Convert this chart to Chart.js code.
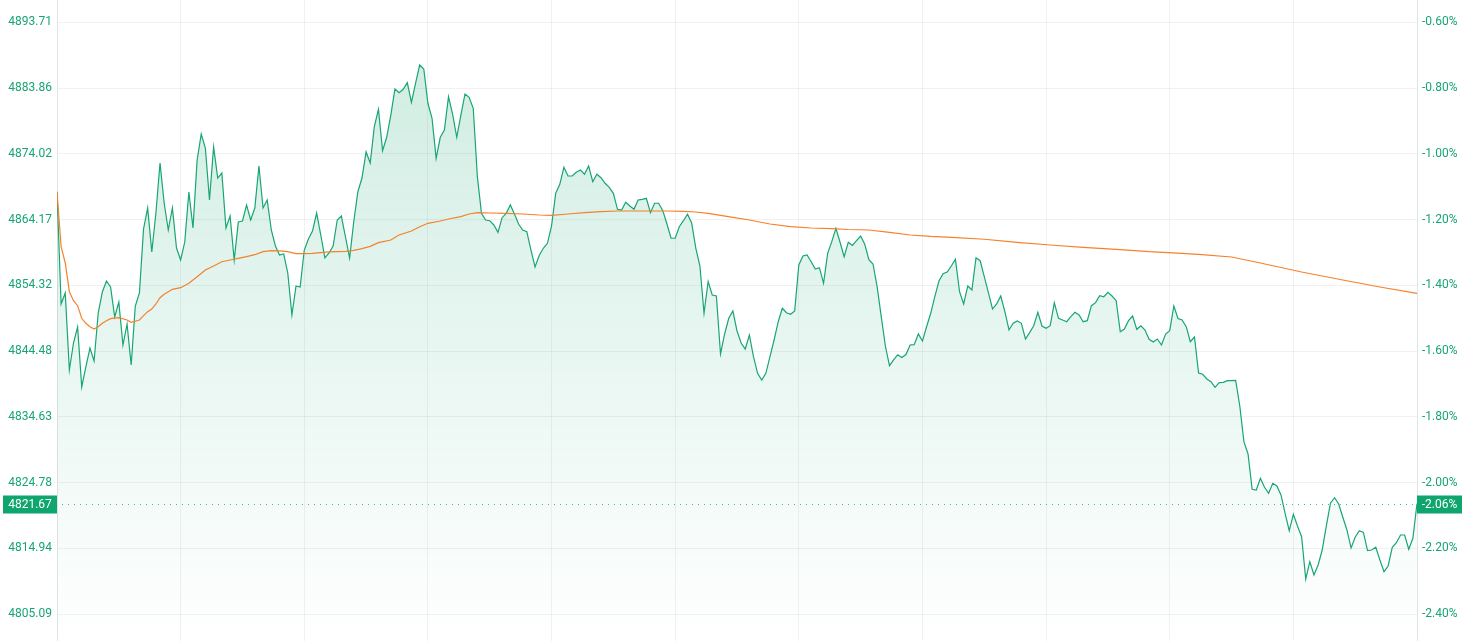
<!DOCTYPE html>
<html>
<head>
<meta charset="utf-8">
<script src="https://cdn.jsdelivr.net/npm/chart.js@4.4.1/dist/chart.umd.min.js"></script>
<style>
	html, body { margin: 0; padding: 0; background: #fff; }
	#wrap { width: 1474px; height: 641px; position: relative; }
</style>
</head>
<body>
<div id="wrap"><canvas id="chart"></canvas></div>
<script>
// =================== DATA ===================
const prevClose = 4923.08;
const lastPrice = 4821.67;

const yTicks = [4805.09, 4814.94, 4824.78, 4834.63, 4844.48, 4854.32, 4864.17, 4874.02, 4883.86, 4893.71];

// one value per minute, 331 points
const prices = [
	4868.35, 4851.54, 4853.19, 4841.66, 4845.70, 4848.10, 4839.12, 4842.11, 4844.95, 4843.01,
	4850.19, 4853.34, 4854.98, 4854.09, 4849.60, 4851.84, 4845.40, 4848.55, 4842.41, 4851.24,
	4853.19, 4862.77, 4865.91, 4859.33, 4865.16, 4872.65, 4866.66, 4862.62, 4865.91, 4859.92,
	4858.13, 4860.82, 4868.31, 4862.92, 4873.10, 4876.99, 4874.89, 4867.11, 4875.04, 4870.40,
	4871.15, 4862.92, 4864.71, 4858.13, 4863.82, 4863.97, 4866.36, 4864.12, 4865.91, 4872.20,
	4865.91, 4867.11, 4862.62, 4860.22, 4858.88, 4859.03, 4856.18, 4849.89, 4854.24, 4854.09,
	4859.62, 4861.27, 4862.47, 4865.16, 4861.87, 4858.43, 4859.18, 4860.22, 4864.12, 4864.71,
	4861.57, 4858.43, 4863.82, 4868.35, 4870.40, 4874.30, 4872.65, 4878.08, 4880.69, 4874.49,
	4876.50, 4879.83, 4883.73, 4883.17, 4883.68, 4884.67, 4881.74, 4884.58, 4887.32, 4886.72,
	4881.59, 4879.34, 4873.35, 4876.50, 4877.59, 4882.57, 4879.94, 4876.50, 4879.83, 4882.98,
	4882.48, 4880.84, 4870.60, 4865.12, 4864.12, 4864.01, 4863.37, 4862.27, 4864.46, 4865.12,
	4866.36, 4865.01, 4863.52, 4862.62, 4862.36, 4859.62, 4857.08, 4858.80, 4859.88, 4860.63,
	4863.22, 4868.11, 4869.46, 4872.00, 4870.70, 4870.70, 4871.26, 4871.60, 4870.96, 4872.20,
	4869.85, 4870.96, 4870.45, 4869.61, 4869.01, 4868.11, 4865.72, 4865.61, 4866.77, 4866.21,
	4865.72, 4867.11, 4867.21, 4867.36, 4865.21, 4866.62, 4866.62, 4865.51, 4863.52, 4861.38,
	4861.38, 4863.11, 4864.01, 4864.97, 4863.67, 4859.92, 4857.23, 4850.15, 4854.91, 4852.89,
	4852.74, 4844.06, 4847.05, 4849.40, 4850.49, 4847.50, 4845.70, 4844.80, 4846.90, 4843.65,
	4841.17, 4840.16, 4841.17, 4843.65, 4846.15, 4848.89, 4850.90, 4850.24, 4850.00, 4850.49,
	4857.38, 4858.73, 4858.88, 4857.87, 4856.78, 4856.98, 4854.64, 4859.13, 4860.87, 4862.87,
	4860.78, 4858.62, 4860.78, 4860.30, 4861.02, 4861.72, 4860.48, 4858.17, 4857.53, 4854.13,
	4849.64, 4845.25, 4842.30, 4843.16, 4843.95, 4843.53, 4843.98, 4845.40, 4845.45, 4847.05,
	4846.00, 4848.14, 4850.15, 4852.63, 4854.98, 4856.08, 4856.33, 4857.23, 4858.23, 4853.38,
	4851.54, 4854.24, 4853.64, 4858.47, 4858.02, 4855.63, 4853.23, 4850.79, 4851.54, 4852.74,
	4850.39, 4847.65, 4848.65, 4849.00, 4848.65, 4846.30, 4847.25, 4848.29, 4850.30, 4848.25,
	4847.90, 4848.29, 4851.74, 4849.40, 4849.15, 4848.89, 4849.64, 4850.30, 4849.89, 4848.89,
	4849.04, 4851.29, 4851.74, 4852.78, 4852.63, 4853.29, 4852.74, 4852.04, 4847.39, 4847.80,
	4849.04, 4849.74, 4847.75, 4848.29, 4847.65, 4846.26, 4845.85, 4846.30, 4845.40, 4847.05,
	4847.54, 4851.24, 4849.37, 4849.15, 4848.14, 4845.90, 4846.60, 4841.21, 4841.02, 4840.31,
	4839.91, 4839.07, 4839.76, 4839.82, 4840.06, 4840.06, 4840.12, 4836.27, 4830.93, 4829.09,
	4823.80, 4823.70, 4825.45, 4824.10, 4823.20, 4824.70, 4824.30, 4822.95, 4820.21, 4817.60,
	4820.06, 4818.31, 4816.71, 4810.37, 4812.96, 4810.97, 4812.47, 4814.71, 4818.31, 4821.71,
	4822.54, 4821.60, 4819.61, 4817.71, 4815.01, 4816.62, 4817.60, 4817.36, 4814.61, 4814.71,
	4815.12, 4813.22, 4811.47, 4812.32, 4815.12, 4815.81, 4816.96, 4816.96, 4814.82, 4816.47,
	4821.67,
];

// average price line, read at these minute indexes
const maIndex = [
	0, 1, 2, 3, 4, 5, 6, 7, 8, 9, 10, 11, 12, 13, 15, 17, 18, 20, 21, 22, 23, 24, 25, 26, 28,
	30, 32, 34, 36, 38, 40, 42, 44, 46, 48, 50, 52, 54, 56, 58, 60, 62, 64, 66, 68, 70, 72, 74,
	76, 78, 81, 83, 86, 88, 90, 93, 95, 98, 100, 102, 105, 109, 113, 117, 120, 124, 128, 132,
	136, 140, 144, 148, 152, 155, 158, 161, 164, 168, 173, 178, 183, 188, 192, 197, 202, 207,
	212, 217, 225, 233, 241, 249, 257, 265, 273, 277, 285, 292, 302, 312, 321, 330,
];
const maValues = [
	4868.35, 4860.12, 4857.68, 4853.38, 4852.04, 4851.29, 4849.40, 4848.65, 4848.14, 4847.80,
	4848.14, 4848.65, 4849.04, 4849.34, 4849.49, 4849.15, 4848.80, 4849.15, 4849.79, 4850.39,
	4850.79, 4851.54, 4852.48, 4852.99, 4853.74, 4853.98, 4854.64, 4855.63, 4856.63, 4857.23,
	4857.87, 4858.13, 4858.38, 4858.62, 4858.92, 4859.37, 4859.52, 4859.48, 4859.37, 4859.07,
	4859.07, 4859.13, 4859.22, 4859.33, 4859.37, 4859.43, 4859.58, 4859.82, 4860.16, 4860.72,
	4861.12, 4861.87, 4862.47, 4863.11, 4863.62, 4863.97, 4864.27, 4864.61, 4865.01, 4865.21,
	4865.16, 4865.12, 4865.01, 4864.86, 4864.82, 4865.01, 4865.21, 4865.36, 4865.46, 4865.46,
	4865.46, 4865.46, 4865.42, 4865.31, 4865.12, 4864.82, 4864.52, 4864.12, 4863.52, 4863.11,
	4862.92, 4862.81, 4862.69, 4862.62, 4862.27, 4861.87, 4861.65, 4861.50, 4861.23, 4860.78,
	4860.37, 4860.03, 4859.73, 4859.37, 4859.13, 4858.98, 4858.58, 4857.68, 4856.33, 4855.13,
	4854.09, 4853.14,
];

// =================== STYLE ===================
const GREEN = "#17a671";
const LABEL_GREEN = "#0ea56f";
const ORANGE = "#f6802c";
const GRID = "rgba(0,0,0,0.055)";
const FONT = { family: "Roboto", size: 12 };

const pct = (v) => `${((v / prevClose - 1) * 100).toFixed(2)}%`;

// no extra room around the plot: it fills the whole canvas height
function fitWidth(w) {
	return (s) => {
		s.width = w;
		s.paddingTop = 0;
		s.paddingBottom = 0;
	};
}

// dotted last-price line with boxes on both axes
const lastPricePlugin = {
	id: "lastPrice",
	afterDatasetsDraw(chart) {
		const { ctx, chartArea, scales } = chart;
		const y = Math.round(scales.y.getPixelForValue(lastPrice)) + 0.5;
		ctx.save();
		ctx.strokeStyle = "#3fbd8f";
		ctx.lineWidth = 1;
		ctx.setLineDash([1, 5]);
		ctx.beginPath();
		ctx.moveTo(chartArea.left + 5, y);
		ctx.lineTo(chartArea.right, y);
		ctx.stroke();
		ctx.setLineDash([]);

		ctx.font = "12px Roboto";
		ctx.textBaseline = "middle";
		ctx.textAlign = "center";
		const h = 18;
		// left box
		ctx.fillStyle = LABEL_GREEN;
		ctx.fillRect(3, y - h / 2, chartArea.left - 3, h);
		ctx.fillStyle = "#fff";
		ctx.fillText(lastPrice.toFixed(2), (3 + chartArea.left) / 2, y + 0.5);
		// right box
		ctx.fillStyle = LABEL_GREEN;
		ctx.fillRect(chartArea.right, y - h / 2, 45, h);
		ctx.fillStyle = "#fff";
		ctx.fillText(pct(lastPrice), chartArea.right + 22.5, y + 0.5);
		ctx.restore();
	},
};

function areaFill(context) {
	const { chart } = context;
	const area = chart.chartArea;
	if (!area) return "rgba(23,166,113,0.15)";
	const g = chart.ctx.createLinearGradient(0, area.top, 0, area.bottom);
	g.addColorStop(0, "rgba(23,166,113,0.22)");
	g.addColorStop(1, "rgba(23,166,113,0.0)");
	return g;
}

// =================== CHART ===================
const ctx = document.getElementById("chart").getContext("2d");
new Chart(ctx, {
	type: "line",
	data: {
		datasets: [
			{
				label: "Average",
				data: maIndex.map((x, i) => ({ x, y: maValues[i] })),
				borderColor: ORANGE,
				borderWidth: 1.2,
				pointRadius: 0,
				fill: false,
				order: 1,
			},
			{
				label: "Price",
				data: prices.map((y, x) => ({ x, y })),
				borderColor: GREEN,
				borderWidth: 1.2,
				pointRadius: 0,
				fill: "start",
				backgroundColor: areaFill,
				order: 2,
			},
		],
	},
	options: {
		responsive: true,
		maintainAspectRatio: false,
		animation: false,
		events: [],
		layout: { padding: 0, autoPadding: false },
		plugins: {
			legend: { display: false },
			tooltip: { enabled: false },
		},
		scales: {
			x: {
				type: "linear",
				min: 0,
				max: 330,
				ticks: { display: false, stepSize: 30 },
				grid: { color: GRID, drawTicks: false },
				border: { display: false },
				afterFit: (s) => {
					s.height = 0;
					s.paddingLeft = 0;
					s.paddingRight = 0;
				},
			},
			y: {
				position: "left",
				min: 4801.09,
				max: 4897.05,
				afterBuildTicks: (s) => { s.ticks = yTicks.map((value) => ({ value })); },
				ticks: {
					color: GREEN,
					font: FONT,
					padding: 5,
					callback: (v) => v.toFixed(2),
				},
				grid: { color: GRID, drawTicks: false },
				border: { color: GRID },
				afterFit: fitWidth(57),
			},
			y1: {
				position: "right",
				min: 4801.09,
				max: 4897.05,
				afterBuildTicks: (s) => { s.ticks = yTicks.map((value) => ({ value })); },
				ticks: {
					color: GREEN,
					font: FONT,
					padding: 5,
					callback: (v) => pct(v),
				},
				grid: { drawOnChartArea: false, drawTicks: false },
				border: { color: GRID },
				afterFit: fitWidth(57),
			},
		},
	},
	plugins: [lastPricePlugin],
});
</script>
</body>
</html>
